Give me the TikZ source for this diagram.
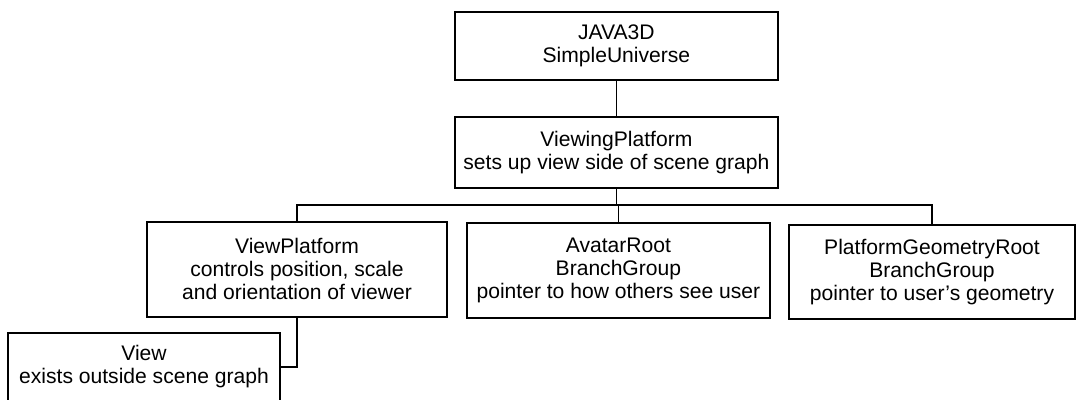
\documentclass[tikz,border=0pt]{standalone}
\usepackage{fontspec}
\setmainfont{Liberation Sans}
\begin{document}
\begin{tikzpicture}
		\tikzset{box/.style = {shape=rectangle,draw,line width=1.8pt,align=center,inner sep=2pt,font=\fontsize{15}{16.4}\selectfont}}
		\tikzset{link/.style = {draw,line width=0.8pt}}
		\useasboundingbox (0,0) rectangle (26.925,9.975);
		\node[box,minimum width=8.075cm,minimum height=1.7cm] (uni) at (15.41,8.825) {JAVA3D\\SimpleUniverse};
		\node[box,minimum width=8.075cm,minimum height=1.775cm] (vwp) at (15.41,6.16) {ViewingPlatform\\sets up view side of scene graph};
		\node[box,minimum width=7.5cm,minimum height=2.375cm] (vp) at (7.425,3.24) {ViewPlatform\\controls position, scale\\and orientation of viewer};
		\node[box,minimum width=7.575cm,minimum height=2.375cm] (avr) at (15.46,3.21) {AvatarRoot\\BranchGroup\\pointer to how others see user};
		\node[box,minimum width=7.15cm,minimum height=2.35cm] (pgr) at (23.3,3.175) {PlatformGeometryRoot\\BranchGroup\\pointer to user's geometry};
		\node[box,minimum width=6.8cm,minimum height=1.7cm] (view) at (3.6,0.8) {View\\exists outside scene graph};
		\coordinate (bus) at (15.41,4.85);
		\path[link] (uni) -- (vwp);
		\path[link] (vwp) -- (bus);
		\path[link] (vp.north) |- (bus) -| (pgr.north);
		\path[link] (avr.north) -- (avr.north |- bus);
		\path[link] (vp.south) |- (view.east);
	\end{tikzpicture}
\end{document}
